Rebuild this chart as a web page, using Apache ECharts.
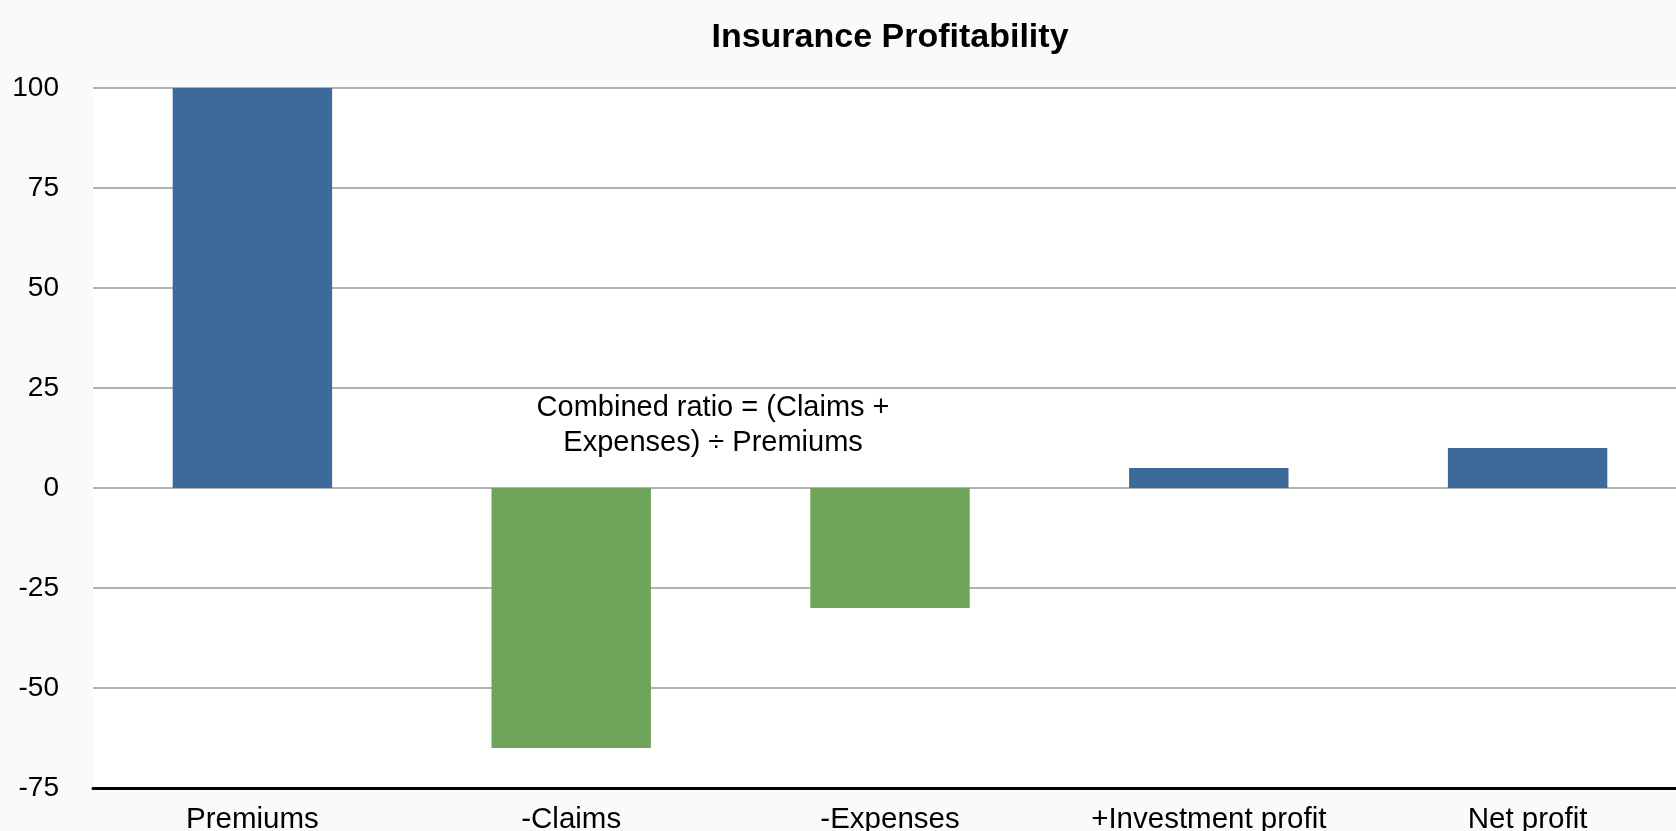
<!DOCTYPE html>
<html>
<head>
<meta charset="utf-8">
<script src="https://cdn.jsdelivr.net/npm/echarts@6/dist/echarts.min.js"></script>
<style>
    html, body { margin: 0; padding: 0; background: #fafafa; }
    #chart { width: 1676px; height: 831px; }
</style>
</head>
<body>
<div id="chart"></div>
<script>
var categories = ['Premiums', '-Claims', '-Expenses', '+Investment profit', 'Net profit'],
    values = [100, -65, -30, 5, 10],
    yTicks = { min: -75, max: 100, step: 25 },
    note = 'Combined ratio = (Claims +\nExpenses) \u00f7 Premiums';

var font = '"Liberation Sans", Arial, Helvetica, sans-serif';

var myChart = echarts.init(document.getElementById('chart')),
    option = {
        backgroundColor: '#fafafa',
        animation: false,
        title: {
            text: 'Insurance Profitability',
            left: 885,
            textAlign: 'center',
            top: 16,
            textStyle: {
                fontFamily: font,
                fontSize: 34,
                fontWeight: 'bold',
                color: '#000'
            }
        },
        grid: {
            left: 93,
            width: 1594,
            top: 88,
            bottom: 43,
            outerBoundsMode: 'none',
            containLabel: false,
            show: true,
            backgroundColor: '#ffffff',
            borderWidth: 0
        },
        xAxis: {
            type: 'category',
            data: categories,
            axisLine: {
                onZero: false,
                lineStyle: {
                    color: '#000',
                    width: 3
                }
            },
            axisTick: { show: false },
            axisLabel: {
                margin: 17,
                fontFamily: font,
                fontSize: 29.5,
                color: '#000'
            }
        },
        yAxis: {
            type: 'value',
            min: yTicks.min,
            max: yTicks.max,
            interval: yTicks.step,
            axisLine: { show: false },
            axisTick: { show: false },
            axisLabel: {
                margin: 34,
                fontFamily: font,
                fontSize: 28,
                color: '#000'
            },
            splitLine: {
                lineStyle: {
                    color: '#b2b2b2',
                    width: 2
                }
            }
        },
        series: [
            {
                type: 'bar',
                data: values,
                barWidth: '50%',
                itemStyle: {
                    color: function (p) {
                        return p.value < 0 ? '#6ea55a' : '#3c6a9a';
                    }
                }
            }
        ]
    };
myChart.setOption(option);

// annotation placed between the Claims and Expenses bars
var cx = myChart.convertToPixel({ xAxisIndex: 0 }, categories[1]),
    ex = myChart.convertToPixel({ xAxisIndex: 0 }, categories[2]),
    ny = myChart.convertToPixel({ yAxisIndex: 0 }, 24.5);
myChart.setOption({
    graphic: [
        {
            type: 'text',
            x: cx + (ex - cx) * 0.445,
            y: ny,
            style: {
                text: note,
                textAlign: 'center',
                textVerticalAlign: 'top',
                fontFamily: font,
                fontSize: 29,
                lineHeight: 35,
                fill: '#000'
            }
        }
    ]
});
</script>
</body>
</html>
